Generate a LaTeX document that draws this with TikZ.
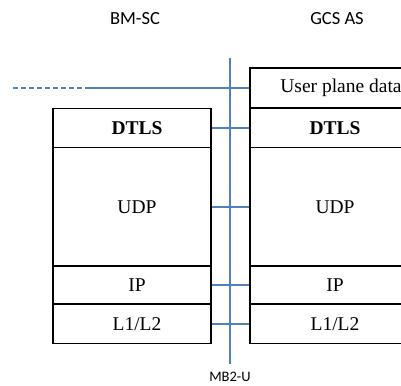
\documentclass[tikz,border=0pt]{standalone}
\usepackage{fontspec}
\setmainfont{Liberation Serif}
\newfontfamily\entityfont{Carlito}
\usetikzlibrary{positioning}
\definecolor{ifblue}{RGB}{79,129,189}

\begin{document}
\begin{tikzpicture}[x=1pt, y=-1pt,
    layer/.style={draw, line width=1.5pt, inner sep=0pt, font=\fontsize{19.5}{22}\selectfont,
        execute at begin node=\hspace*{10pt}},
    leftlayer/.style={layer, minimum width=158pt},
    rightlayer/.style={layer, minimum width=160pt},
    entity/.style={font=\entityfont\fontsize{18.5}{22}\selectfont},
    link/.style={ifblue, line width=2pt}]
    \useasboundingbox (0,0) rectangle (401,385);
    \clip (0,0) rectangle (401,385);

    % Entity names
    \node[entity] (bmsc) at (135,19) {BM-SC};
    \node[entity] (gcsas) at (337,19) {GCS AS};

    % BM-SC stack
    \node[leftlayer, minimum height=39pt, font=\fontsize{19.5}{22}\selectfont\bfseries] (ldtls) at (132,128) {DTLS};
    \node[leftlayer, minimum height=119pt] (ludp) at (132,207) {UDP};
    \node[leftlayer, minimum height=38pt] (lip) at (132,285) {IP};
    \node[leftlayer, minimum height=39pt] (lll) at (132,324) {L1/L2};

    % GCS AS stack
    \node[rightlayer, minimum height=40pt, execute at begin node=\hspace*{12pt}] (rdata) at (330,88) {User plane data};
    \node[rightlayer, minimum height=39pt, font=\fontsize{19.5}{22}\selectfont\bfseries] (rdtls) at (330,128) {DTLS};
    \node[rightlayer, minimum height=119pt] (rudp) at (330,207) {UDP};
    \node[rightlayer, minimum height=38pt] (rip) at (330,285) {IP};
    \node[rightlayer, minimum height=39pt] (rll) at (330,324) {L1/L2};

    % MB2-U reference point
    \coordinate (mbtop) at (230,58);
    \node[entity, font=\entityfont\fontsize{14.5}{17}\selectfont, anchor=north, inner ysep=8pt] (mb) at (230,364) {MB2-U};
    \draw[link] (mbtop) -- (mb.north);

    % Peer links
    \coordinate (dstart) at (13,88);
    \coordinate (dend) at (88,88);
    \draw[link, dash pattern=on 5pt off 3pt] (dstart) -- (dend);
    \draw[link] (dend) -- (rdata.west);
    \draw[link] (ldtls.east) -- (rdtls.west);
    \draw[link] (ludp.east) -- (rudp.west);
    \draw[link] (lip.east) -- (rip.west);
    \draw[link] (lll.east) -- (rll.west);
\end{tikzpicture}
\end{document}
